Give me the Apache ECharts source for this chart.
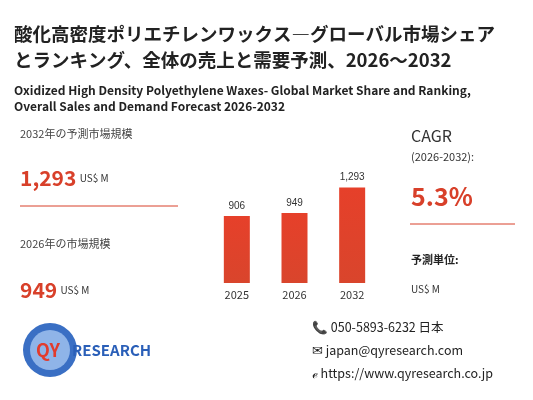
<!DOCTYPE html>
<html><head><meta charset="utf-8">
<script src="https://cdn.jsdelivr.net/npm/echarts@6/dist/echarts.min.js"></script>
<style>html,body{margin:0;padding:0;background:#fff}#c{width:533px;height:400px}</style>
</head><body><div id="c"></div>
<script>
const categories = ['2025', '2026', '2032'];
const values = [906, 949, 1293];
const labels = ['906', '949', '1,293'];
const RED = '#d8402a';
const F = '"Noto Sans CJK JP","Noto Sans",sans-serif';
const chart = echarts.init(document.getElementById('c'));
function t(x, y, text, size, color, weight, extra) {
  return Object.assign({type: 'text', left: x, top: y, style: {text, fontSize: size, fill: color || '#222', fontWeight: weight || 'normal', fontFamily: F}}, extra || {});
}
chart.setOption({
  animation: false,
  grid: {left: 208, right: 152, top: 150, bottom: 117},
  xAxis: {type: 'category', data: categories, axisLine: {show: false}, axisTick: {show: false},
    axisLabel: {fontSize: 11, color: '#333', margin: 6, fontFamily: F}},
  yAxis: {type: 'value', min: 0, max: 1800, show: false},
  series: [{type: 'bar', data: values, barWidth: 26,
    itemStyle: {color: new echarts.graphic.LinearGradient(0, 0, 0, 1, [{offset: 0, color: '#e6402a'}, {offset: 1, color: '#d9452c'}])},
    label: {show: true, position: 'top', fontSize: 10, color: '#333', formatter: p => labels[p.dataIndex]}}],
  graphic: [
    t(14, 25, '酸化高密度ポリエチレンワックス―グローバル市場シェア', 18.5, '#222', 'bold'),
    t(14, 51, 'とランキング、全体の売上と需要予測、2026～2032', 18.5, '#222', 'bold'),
    t(14, 84, 'Oxidized High Density Polyethylene Waxes- Global Market Share and Ranking,', 12, '#222', 'bold'),
    t(14, 100, 'Overall Sales and Demand Forecast 2026-2032', 12, '#222', 'bold'),
    t(20, 128, '2032年の予測市場規模', 11, '#444'),
    {type: 'text', left: 20, top: 168, style: {rich: {a: {fontSize: 21, fontWeight: 'bold', fill: RED, fontFamily: F}, b: {fontSize: 10, fill: '#333', fontFamily: F}}, text: '{a|1,293} {b|US$ M}'}},
    {type: 'line', shape: {x1: 20, y1: 206, x2: 178, y2: 206}, style: {stroke: RED, lineWidth: 1}},
    t(20, 238, '2026年の市場規模', 11, '#444'),
    {type: 'text', left: 20, top: 280, style: {rich: {a: {fontSize: 21, fontWeight: 'bold', fill: RED, fontFamily: F}, b: {fontSize: 10, fill: '#333', fontFamily: F}}, text: '{a|949} {b|US$ M}'}},
    t(411, 128, 'CAGR', 16, '#333'),
    t(411, 151, '(2026-2032):', 11, '#333'),
    t(411, 184, '5.3%', 25, RED, 'bold'),
    {type: 'line', shape: {x1: 410, y1: 224, x2: 515, y2: 224}, style: {stroke: RED, lineWidth: 1}},
    t(411, 254, '予測単位:', 11, '#222', 'bold'),
    t(411, 284, 'US$ M', 10, '#333'),
    {type: 'circle', shape: {cx: 50, cy: 350, r: 27}, style: {fill: '#3a6fc4'}},
    {type: 'circle', shape: {cx: 50, cy: 350, r: 20}, style: {fill: '#8fb4e8'}},
    {type: 'text', left: 36, top: 341, style: {text: 'QY', fontSize: 18, fontWeight: 'bold', fill: '#e23b2c', fontFamily: F}},
    {type: 'text', left: 72, top: 343, style: {text: 'RESEARCH', fontSize: 15, fontWeight: 'bold', fill: '#2a5fb8', fontFamily: F}},
    t(312, 321, '📞 050-5893-6232 日本', 12.5, '#222'),
    t(312, 344, '✉ japan@qyresearch.com', 12.5, '#222'),
    t(312, 367, 'ℯ https://www.qyresearch.co.jp', 12.5, '#222')
  ]
});
</script></body></html>
